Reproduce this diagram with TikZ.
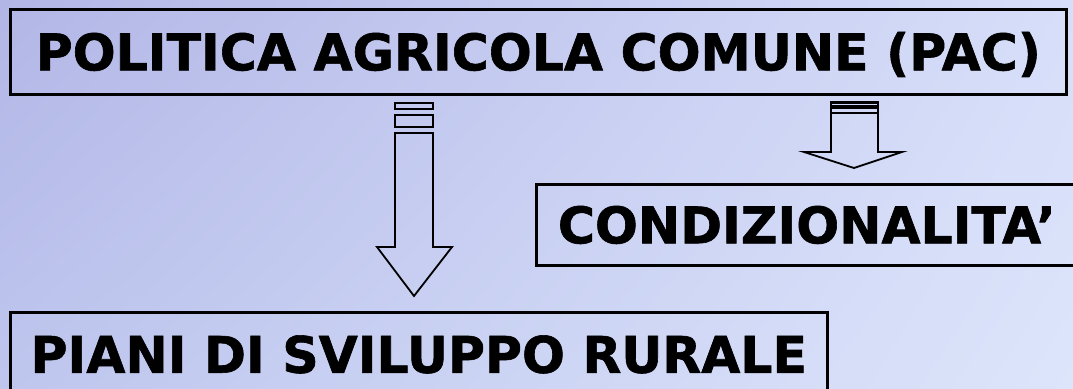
\documentclass[tikz,border=0pt]{standalone}
\usepackage{fontspec}
\setmainfont{DejaVu Sans}
\newfontfamily\heavyfont{DejaVu Sans Bold}[FakeBold=1.2]
\usetikzlibrary{shadings}
\definecolor{bgUL}{RGB}{178,182,230}
\definecolor{bgUR}{RGB}{214,222,249}
\definecolor{bgLL}{RGB}{190,198,238}
\definecolor{bgLR}{RGB}{221,229,251}
\begin{document}
\begin{tikzpicture}[x=1pt,y=-1pt,
  box/.style={draw=black, line width=2.6pt, inner sep=0pt, anchor=north west,
    font=\fontsize{50.5}{60}\heavyfont},
  blockarrow/.style={draw=black, line width=1.8pt, line join=miter}]
\useasboundingbox (0,0) rectangle (1073,388);
\shade[upper left=bgUL, upper right=bgUR, lower left=bgLL, lower right=bgLR] (0,0) rectangle (1073,388);
% boxes
\node[box, minimum width=1056pt, minimum height=85pt, text depth=0pt, text height=37pt] (pac) at (9,8) {POLITICA AGRICOLA COMUNE (PAC)};
\node[box, minimum width=541pt, minimum height=81pt, text depth=0pt, text height=37pt] (cond) at (535,183) {CONDIZIONALITA’};
\node[box, minimum width=817pt, minimum height=84pt, text depth=0pt, text height=37pt] (psr) at (9,311) {PIANI DI SVILUPPO RURALE};
% left arrow
\draw[blockarrow] (395,103) rectangle (433,109);
\draw[blockarrow] (395,115) rectangle (433,127);
\draw[blockarrow] (395,133) -- (395,247) -- (377,247) -- (414,296) -- (452,247) -- (433,247) -- (433,133) -- cycle;
% right arrow
\draw[blockarrow, line width=2.4pt] (831,102.5) rectangle (878,106);
\draw[blockarrow] (831,108) rectangle (878,113);
\draw[blockarrow] (831,113) -- (831,152) -- (804,152) -- (854,168) -- (902,152) -- (878,152) -- (878,113) -- cycle;
\end{tikzpicture}
\end{document}
